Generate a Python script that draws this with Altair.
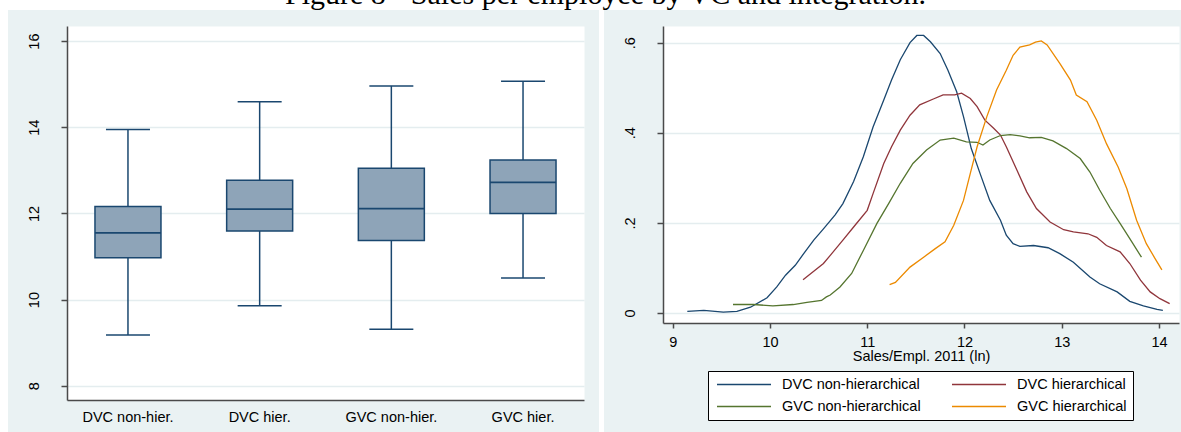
import altair as alt
import pandas as pd

# ---- Box plot summaries: log sales per employee, 2011 ----
groups = ["DVC non-hier.", "DVC hier.", "GVC non-hier.", "GVC hier."]
whisker_low = [9.18, 9.86, 9.31, 10.50]
quartile_1 = [10.97, 11.59, 11.37, 12.00]
medians = [11.55, 12.10, 12.11, 12.72]
quartile_3 = [12.16, 12.77, 13.05, 13.24]
whisker_high = [13.95, 14.59, 14.96, 15.07]

# ---- Kernel density estimates by group ----
series_names = ["DVC non-hierarchical", "DVC hierarchical",
                "GVC non-hierarchical", "GVC hierarchical"]

dvc_non_x = [9.15, 9.32, 9.52, 9.66, 9.80, 9.97, 10.07, 10.16, 10.26, 10.36, 10.45,
             10.55, 10.67, 10.75, 10.86, 10.96, 11.06, 11.17, 11.25, 11.34, 11.44,
             11.51, 11.58, 11.65, 11.75, 11.83, 11.92, 11.99, 12.07, 12.16, 12.26,
             12.37, 12.43, 12.50, 12.57, 12.71, 12.86, 12.98, 13.12, 13.29, 13.39,
             13.57, 13.70, 13.84, 13.98, 14.04]
dvc_non_d = [0.004, 0.006, 0.002, 0.004, 0.013, 0.034, 0.058, 0.084, 0.106, 0.136, 0.162,
             0.187, 0.218, 0.243, 0.292, 0.347, 0.413, 0.473, 0.517, 0.562, 0.600,
             0.616, 0.616, 0.602, 0.576, 0.539, 0.491, 0.436, 0.365, 0.310, 0.250,
             0.206, 0.173, 0.154, 0.148, 0.150, 0.145, 0.132, 0.113, 0.080, 0.065,
             0.047, 0.026, 0.016, 0.008, 0.006]

dvc_hier_x = [10.34, 10.55, 10.62, 10.75, 10.86, 11.00, 11.06, 11.17, 11.25, 11.34,
              11.44, 11.54, 11.68, 11.78, 11.90, 11.97, 12.06, 12.13, 12.21, 12.30,
              12.37, 12.43, 12.54, 12.64, 12.74, 12.88, 13.02, 13.12, 13.27, 13.36,
              13.46, 13.60, 13.70, 13.81, 13.91, 14.01, 14.11]
dvc_hier_d = [0.074, 0.110, 0.128, 0.162, 0.191, 0.228, 0.265, 0.332, 0.369, 0.406,
              0.439, 0.462, 0.475, 0.484, 0.484, 0.488, 0.476, 0.458, 0.428, 0.410,
              0.395, 0.369, 0.317, 0.269, 0.232, 0.202, 0.185, 0.180, 0.176, 0.168,
              0.150, 0.136, 0.110, 0.073, 0.047, 0.032, 0.021]

gvc_non_x = [9.62, 9.83, 10.03, 10.24, 10.38, 10.53, 10.58, 10.62, 10.72, 10.84,
             10.96, 11.10, 11.22, 11.34, 11.47, 11.61, 11.75, 11.89, 12.02, 12.13,
             12.19, 12.26, 12.37, 12.47, 12.57, 12.67, 12.79, 12.91, 13.05, 13.19,
             13.29, 13.39, 13.50, 13.60, 13.70, 13.82]
gvc_non_d = [0.019, 0.019, 0.016, 0.019, 0.024, 0.028, 0.036, 0.040, 0.058, 0.088,
             0.139, 0.199, 0.243, 0.288, 0.332, 0.362, 0.384, 0.388, 0.380, 0.379,
             0.373, 0.384, 0.394, 0.396, 0.393, 0.389, 0.390, 0.382, 0.365, 0.343,
             0.313, 0.273, 0.232, 0.199, 0.165, 0.124]

gvc_hier_x = [11.23, 11.29, 11.44, 11.58, 11.70, 11.80, 11.89, 11.99, 12.06, 12.13,
              12.23, 12.33, 12.43, 12.50, 12.57, 12.67, 12.73, 12.79, 12.85, 12.98,
              13.09, 13.15, 13.26, 13.36, 13.46, 13.58, 13.67, 13.77, 13.87, 13.96,
              14.03]
gvc_hier_d = [0.063, 0.068, 0.102, 0.124, 0.143, 0.158, 0.195, 0.250, 0.310, 0.369,
              0.436, 0.495, 0.539, 0.572, 0.590, 0.595, 0.601, 0.604, 0.595, 0.554,
              0.517, 0.484, 0.469, 0.428, 0.376, 0.324, 0.276, 0.206, 0.154, 0.121,
              0.096]

title_text = "Figure 8 - Sales per employee by VC and integration."

# ---- styling ----
NAVY = "#1A476F"
line_colors = [NAVY, "#90353B", "#55752F", "#EC8A00"]
BOX_FILL = "#8EA4B8"
PANEL = "#EAF2F3"
GRID = "#E4EDEF"
AXIS = "#4A4A4A"
FONT = "Liberation Sans"
FS = 14.5

LEFT_W, LEFT_H = 517, 374
RIGHT_W, RIGHT_H = 516, 297
GAP = 79
PAD_LEFT, PAD_TOP = 67, 26
CANVAS_W, CANVAS_H = 1181, 432

# legend entries fill column by column: list them so rows read DVC / GVC
legend_order = [series_names[0], series_names[2], series_names[1], series_names[3]]
legend_colors = [line_colors[0], line_colors[2], line_colors[1], line_colors[3]]

box_df = pd.DataFrame({"group": groups, "lo": whisker_low, "q1": quartile_1,
                       "med": medians, "q3": quartile_3, "hi": whisker_high})

rows = []
for name, xs, ds in zip(series_names,
                        [dvc_non_x, dvc_hier_x, gvc_non_x, gvc_hier_x],
                        [dvc_non_d, dvc_hier_d, gvc_non_d, gvc_hier_d]):
    for xv, dv in zip(xs, ds):
        rows.append({"series": name, "x": xv, "d": dv})
dens_df = pd.DataFrame(rows)

one = pd.DataFrame({"k": [0]})

# ---- left panel: box plots ----
x_box = alt.X("group:N", sort=groups, title=None,
              scale=alt.Scale(paddingInner=0.5, paddingOuter=0.213),
              axis=alt.Axis(labelAngle=0, ticks=False, tickSize=0, labelPadding=10,
                            grid=False, domainColor=AXIS, domainWidth=1.5,
                            labelFont=FONT, labelFontSize=FS, labelColor="black"))
y_box = alt.Y("lo:Q", title=None,
              scale=alt.Scale(domain=[7.67, 16.35], nice=False, zero=False),
              axis=alt.Axis(values=[8, 10, 12, 14, 16], labelAngle=270,
                            labelAlign="center", labelBaseline="middle",
                            tickSize=6, labelPadding=27, grid=True, gridColor=GRID,
                            gridWidth=1.5, domainColor=AXIS, domainWidth=1.5,
                            tickColor=AXIS, tickWidth=1.5, labelFont=FONT,
                            labelFontSize=FS, labelColor="black"))

base = alt.Chart(box_df)


def strip(x0, x1, y0, y1):
    # white canvas strips around the light panel backgrounds (pixels, panel origin)
    return alt.Chart(one).mark_rect(color="white").encode(
        x=alt.value(x0), x2=alt.value(x1), y=alt.value(y0), y2=alt.value(y1))


top_strip = strip(-PAD_LEFT, CANVAS_W - PAD_LEFT, -PAD_TOP, 10 - PAD_TOP)
left_strip = strip(-PAD_LEFT, 8 - PAD_LEFT, -PAD_TOP, CANVAS_H - PAD_TOP)
mid_strip = strip(599 - PAD_LEFT, 604 - PAD_LEFT, -PAD_TOP, CANVAS_H - PAD_TOP)

whiskers = base.mark_rule(color=NAVY, strokeWidth=1.5).encode(x=x_box, y=y_box, y2="hi:Q")
boxes = base.mark_bar(size=66, fill=BOX_FILL, stroke=NAVY, strokeWidth=1.5).encode(
    x=x_box, y="q1:Q", y2="q3:Q")
median_marks = base.mark_tick(size=66, thickness=1.8, color=NAVY, opacity=1).encode(
    x=x_box, y="med:Q")
cap_low = base.mark_tick(size=44, thickness=1.5, color=NAVY, opacity=1).encode(
    x=x_box, y="lo:Q")
cap_high = base.mark_tick(size=44, thickness=1.5, color=NAVY, opacity=1).encode(
    x=x_box, y="hi:Q")

heading = alt.Chart(one).mark_text(
    text=title_text, font="Liberation Serif", fontSize=30, align="center",
    baseline="alphabetic", color="black"
).encode(x=alt.value(605.5 - PAD_LEFT), y=alt.value(4 - PAD_TOP))

left = alt.layer(top_strip, left_strip, mid_strip, whiskers, boxes, median_marks,
                 cap_low, cap_high, heading).properties(width=LEFT_W, height=LEFT_H)

# ---- right panel: densities ----
right = alt.Chart(dens_df).mark_line(strokeWidth=1.3).encode(
    x=alt.X("x:Q", title="Sales/Empl. 2011 (ln)",
            scale=alt.Scale(domain=[8.9, 14.206], nice=False, zero=False),
            axis=alt.Axis(values=[9, 10, 11, 12, 13, 14], format="d", tickSize=5,
                          labelPadding=7, titlePadding=1, grid=False,
                          domainColor=AXIS, domainWidth=1.5, tickColor=AXIS,
                          tickWidth=1.5, labelFont=FONT, labelFontSize=FS,
                          labelColor="black", titleFont=FONT, titleFontSize=FS,
                          titleFontWeight="normal", titleColor="black")),
    y=alt.Y("d:Q", title=None,
            scale=alt.Scale(domain=[-0.022, 0.637], nice=False, zero=False),
            axis=alt.Axis(values=[0, 0.2, 0.4, 0.6],
                          labelExpr="datum.value == 0 ? '0' : '.' + format(datum.value * 10, 'd')",
                          labelAngle=270, labelAlign="center", labelBaseline="middle",
                          tickSize=6, labelPadding=27, grid=True, gridColor=GRID,
                          gridWidth=1.5, domainColor=AXIS, domainWidth=1.5,
                          tickColor=AXIS, tickWidth=1.5, labelFont=FONT,
                          labelFontSize=FS, labelColor="black")),
    color=alt.Color("series:N", sort=legend_order,
                    scale=alt.Scale(domain=legend_order, range=legend_colors),
                    legend=alt.Legend(title=None, orient="none",
                                      legendX=708 - PAD_LEFT, legendY=371 - PAD_TOP,
                                      columns=2, symbolType="stroke", symbolSize=2916,
                                      symbolStrokeWidth=1.5, clipHeight=15,
                                      rowPadding=6, columnPadding=28, padding=6,
                                      symbolOffset=2, labelOffset=10, labelFont=FONT,
                                      labelFontSize=FS, labelColor="black",
                                      fillColor="white", strokeColor="black")),
).properties(width=RIGHT_W, height=RIGHT_H)

chart = alt.hconcat(left, right, spacing=GAP, bounds="flush").properties(
    autosize=alt.AutoSizeParams(type="none"),
    padding={"left": PAD_LEFT, "top": PAD_TOP,
             "right": CANVAS_W - PAD_LEFT, "bottom": CANVAS_H - PAD_TOP},
    background=PANEL,
).configure_view(fill="white", stroke="transparent")

chart.save("out.html", embed_options={"renderer": "svg", "actions": False})
